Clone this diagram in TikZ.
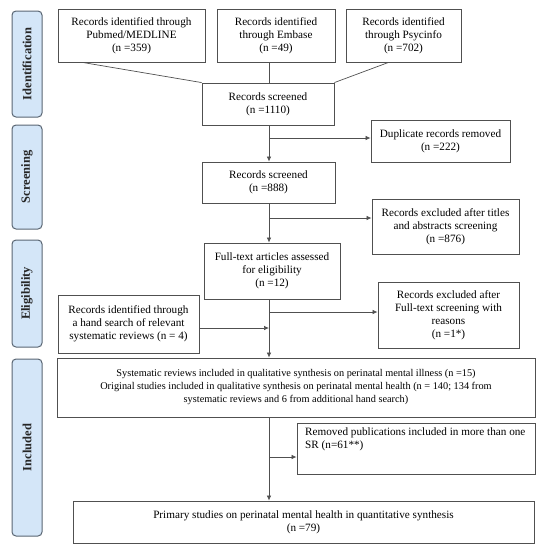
\documentclass[tikz,border=0pt]{standalone}
\usepackage{fontspec}
\setmainfont{Liberation Serif}
\usetikzlibrary{arrows.meta,calc}
\definecolor{boxline}{HTML}{505050}
\definecolor{barfill}{HTML}{D4E6F8}
\definecolor{barline}{HTML}{5A6673}
\begin{document}
\begin{tikzpicture}[x=1pt,y=-1pt,
  box/.style={draw=boxline,line width=0.9pt,inner sep=0pt,align=center,font=\fontsize{11.2}{13}\selectfont},
  bar/.style={draw=barline,fill=barfill,line width=1pt,rounded corners=4pt,minimum width=30pt,inner sep=0pt},
  barlabel/.style={rotate=90,font=\fontsize{12.5}{14}\selectfont\bfseries,text=black!85},
  conn/.style={draw=boxline,line width=0.7pt},
  arr/.style={conn,-{Latex[length=5pt,width=4.5pt]}}]
\useasboundingbox (0,0) rectangle (544,550);
% side bars
\node[bar,minimum height=106pt] (b1) at (27,64) {};
\node[barlabel] (l1) at (b1.center) {Identification};
\node[bar,minimum height=104pt] (b2) at (27,177) {};
\node[barlabel] (l2) at (b2.center) {Screening};
\node[bar,minimum height=107pt] (b3) at (27,293.5) {};
\node[barlabel] (l3) at (b3.center) {Eligibility};
\node[bar,minimum height=177pt] (b4) at (27,447.5) {};
\node[barlabel] (l4) at (b4.center) {Included};
% boxes
\node[box,minimum width=147pt,minimum height=53pt] (pub) at (131.5,35.5) {Records identified through\\Pubmed/MEDLINE\\(n =359)};
\node[box,minimum width=118pt,minimum height=53pt] (emb) at (276,35.5) {Records identified\\through Embase\\(n =49)};
\node[box,minimum width=115pt,minimum height=53pt] (psy) at (403.5,35.5) {Records identified\\through Psycinfo\\(n =702)};
\node[box,minimum width=132pt,minimum height=42pt] (scr1) at (268,104) {Records screened\\(n =1110)};
\node[box,minimum width=139pt,minimum height=42pt] (dup) at (440.5,141) {Duplicate records removed\\(n =222)};
\node[box,minimum width=133pt,minimum height=41pt] (scr2) at (268.5,182.5) {Records screened\\(n =888)};
\node[box,minimum width=147pt,minimum height=55pt] (exc1) at (445.5,226.5) {Records excluded after titles\\and abstracts screening\\(n =876)};
\node[box,minimum width=136pt,minimum height=56pt] (ft) at (272,271) {Full-text articles assessed\\for eligibility\\(n =12)};
\node[box,minimum width=141pt,minimum height=66pt] (exc2) at (448.5,315) {Records excluded after\\Full-text screening with\\reasons\\(n =1*)};
\node[box,minimum width=141pt,minimum height=58pt] (hand) at (128.5,324) {Records identified through\\a hand search of relevant\\systematic reviews (n = 4)};
\node[box,minimum width=478pt,minimum height=59pt,font=\fontsize{10.3}{13}\selectfont] (big) at (296,387.5) {Systematic reviews included in qualitative synthesis on perinatal mental illness (n =15)\\Original studies included in qualitative synthesis on perinatal mental health (n = 140; 134 from\\systematic reviews and 6 from additional hand search)};
\node[box,minimum width=238pt,minimum height=51pt] (rem) at (416,448.5) {};
\node[anchor=north west,inner sep=0pt,align=left,font=\fontsize{11.2}{13}\selectfont] (remtext) at (305,428) {Removed publications included in more than one\\SR (n=61**)};
\node[box,minimum width=461pt,minimum height=42pt] (prim) at (303.5,522) {Primary studies on perinatal mental health in quantitative synthesis\\(n =79)};
% spine coordinates
\coordinate (sp) at (269,0);
\coordinate (j1) at (269,138);
\coordinate (j2) at (269,218);
\coordinate (j3) at (269,312);
\coordinate (j4) at (269,328);
\coordinate (j5) at (269,457);
% connectors
\draw[conn] ($(pub.south west)!0.17!(pub.south east)$) -- (scr1.north west);
\draw[conn] ($(psy.south west)!0.37!(psy.south east)$) -- (scr1.north east);
\draw[conn] (emb.south -| sp) -- (scr1.north -| sp);
\draw[arr] (scr1.south -| sp) -- (scr2.north -| sp);
\draw[arr] (j1) -- (j1 -| dup.west);
\draw[arr] (scr2.south -| sp) -- (ft.north -| sp);
\draw[arr] (j2) -- (j2 -| exc1.west);
\draw[arr] (ft.south -| sp) -- (big.north -| sp);
\draw[arr] (j3) -- (j3 -| exc2.west);
\draw[arr] (j4 -| hand.east) -- (j4);
\draw[arr] (big.south -| sp) -- (prim.north -| sp);
\draw[arr] (j5) -- (j5 -| rem.west);
\end{tikzpicture}
\end{document}
